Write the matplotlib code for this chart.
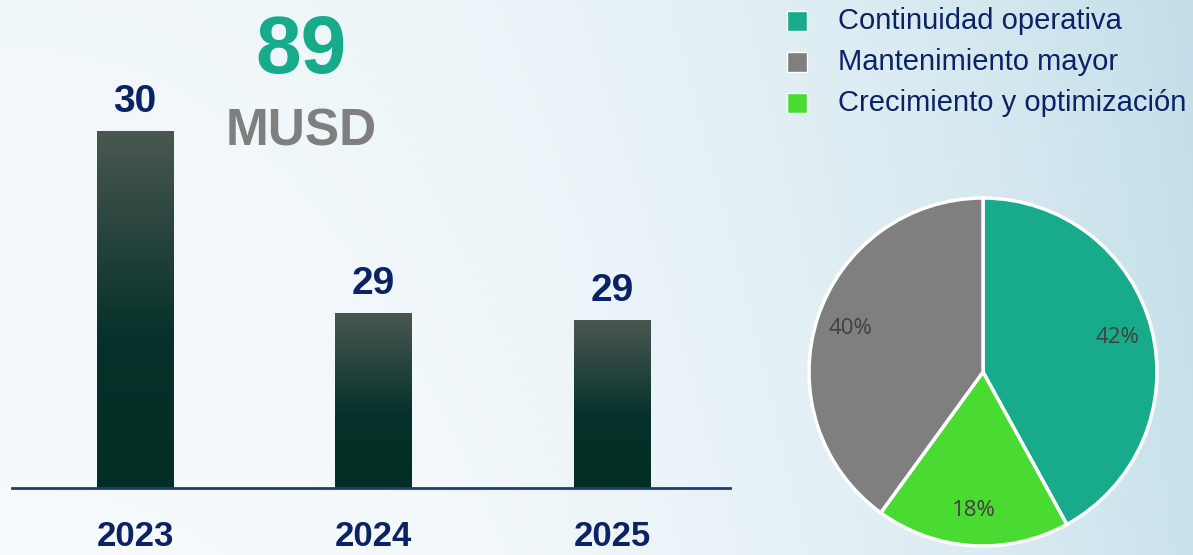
import numpy as np
import matplotlib
matplotlib.use("Agg")
import matplotlib.pyplot as plt
from matplotlib.colors import LinearSegmentedColormap
from matplotlib.lines import Line2D

# data
years = ["2023", "2024", "2025"]
invest = [30.4, 29.4, 29.36]          # MUSD per year
invest_labels = ["30", "29", "29"]
total_label = "89"
unit_label = "MUSD"

categories = ["Continuidad operativa", "Mantenimiento mayor", "Crecimiento y optimización"]
shares = [42, 40, 18]
cat_colors = ["#17AB8B", "#7F7F7F", "#4ADB32"]
pie_order = [0, 2, 1]   # clockwise from the top

navy = "#0B2265"
W, H = 1193, 555

fig = plt.figure(figsize=(W / 100, H / 100), dpi=100)

# soft sky background
bg = fig.add_axes([0, 0, 1, 1], zorder=-10)
gx, gy = np.meshgrid(np.linspace(0, 1, 300), np.linspace(0, 1, 140))
r = np.clip(gx ** 2.4 * 0.85 + gy * 0.12, 0, 1)
c0 = np.array([0.968, 0.982, 0.99])
c1 = np.array([0.76, 0.87, 0.91])
img = c0[None, None, :] * (1 - r[..., None]) + c1[None, None, :] * r[..., None]
bg.imshow(img, aspect="auto", extent=[0, 1, 0, 1], origin="lower")
bg.axis("off")

# bar chart
ax = fig.add_axes([12 / W, (H - 488) / H, 718 / W, 488 / H])
ax.patch.set_alpha(0)
x = np.arange(len(years))
bottom = 28.44
bars = ax.bar(x, [v - bottom for v in invest], bottom=bottom, width=0.32, color="none")
cmap = LinearSegmentedColormap.from_list("bar", [(0, "#032E25"), (0.42, "#05312A"), (1, "#4A5751")])
grad = np.linspace(0, 1, 256).reshape(-1, 1)
for b, lab in zip(bars, invest_labels):
    x0, y0 = b.get_x(), b.get_y()
    x1, y1 = x0 + b.get_width(), y0 + b.get_height()
    im = ax.imshow(grad, cmap=cmap, aspect="auto", extent=[x0, x1, y0, y1], origin="lower", zorder=2)
    im.set_clip_path(b)
    ax.annotate(lab, (b.get_x() + b.get_width() / 2, y1), xytext=(0, 14), textcoords="offset points",
                ha="center", va="baseline", fontsize=28, fontweight="bold", color=navy,
                family="Liberation Sans")

ax.set_xlim(-0.516, 2.495)
ax.set_ylim(bottom, bottom + 488 / 182.1)
ax.set_yticks([])
ax.set_xticks(x)
ax.set_xticklabels(years, fontsize=25, fontweight="bold", color=navy, family="Liberation Sans")
ax.tick_params(axis="x", length=0, pad=23)
for s in ["top", "left", "right"]:
    ax.spines[s].set_visible(False)
ax.spines["bottom"].set_color("#1F3C7A")
ax.spines["bottom"].set_linewidth(2)

# total
fig.text(301 / W, 1 - 73 / H, total_label, ha="center", va="baseline", fontsize=59,
         fontweight="bold", color="#17AB8B", family="Liberation Sans")
fig.text(301 / W, 1 - 145 / H, unit_label, ha="center", va="baseline", fontsize=37,
         fontweight="bold", color="#7F7F7F", family="Liberation Sans")

# pie
pax = fig.add_axes([(983 - 180) / W, (H - 372 - 180) / H, 360 / W, 360 / H])
wedges, texts, autotexts = pax.pie([shares[i] for i in pie_order], colors=[cat_colors[i] for i in pie_order],
                                   startangle=90, counterclock=False, autopct="%d%%", pctdistance=0.8,
                                   wedgeprops=dict(edgecolor="white", linewidth=2.5))
for t in autotexts:
    t.set_fontsize(16)
    t.set_color("#404040")
    t.set_family("Open Sans")
lim = 180 / 174
pax.set_xlim(-lim, lim)
pax.set_ylim(-lim, lim)
pax.set_aspect("auto")
pax.axis("off")

# legend
for i, (cat, col) in enumerate(zip(categories, cat_colors)):
    yy = 1 - (21 + 41 * i) / H
    fig.add_artist(Line2D([797 / W], [yy], transform=fig.transFigure, marker="s", linestyle="none",
                          markersize=15, markerfacecolor=col, markeredgecolor="white", markeredgewidth=1))
    fig.text(838 / W, yy, cat, ha="left", va="center", fontsize=21, color=navy, family="Liberation Sans")

fig.savefig("out.png", dpi=100)
